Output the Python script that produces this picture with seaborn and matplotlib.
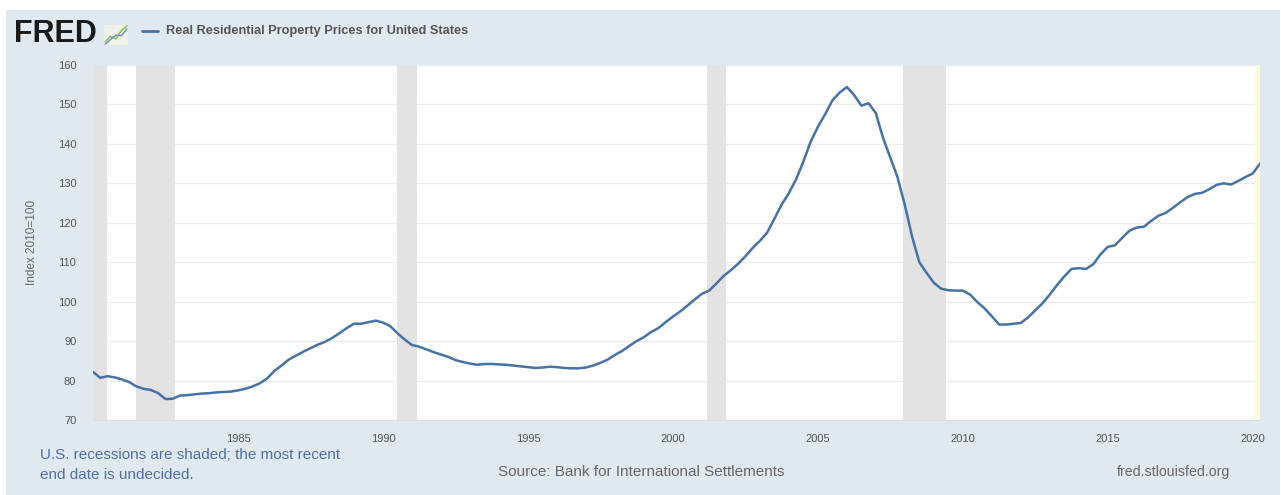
import numpy as np
import pandas as pd
import seaborn as sns
import matplotlib.pyplot as plt
from matplotlib.patches import Rectangle

# Real Residential Property Prices for United States, quarterly (Index 2010=100)
values_1980s = [82.2, 80.7, 81.1, 80.8,  80.3, 79.6, 78.5, 77.9,
                77.6, 76.8, 75.3, 75.4,  76.2, 76.3, 76.5, 76.7,
                76.8, 77.0, 77.1, 77.2,  77.5, 77.9, 78.5, 79.3,
                80.5, 82.4, 83.8, 85.3,  86.3, 87.3, 88.2, 89.1,
                89.8, 90.8, 92.0, 93.3,  94.4, 94.4, 94.8, 95.2]
values_1990s = [94.7, 93.8, 92.0, 90.4,  89.0, 88.6, 87.9, 87.2,
                86.6, 86.0, 85.2, 84.7,  84.3, 84.0, 84.2, 84.2,
                84.1, 84.0, 83.8, 83.6,  83.4, 83.2, 83.3, 83.5,
                83.4, 83.2, 83.1, 83.1,  83.3, 83.8, 84.5, 85.3,
                86.5, 87.5, 88.8, 90.0,  91.0, 92.3, 93.3, 94.8]
values_2000s = [96.2, 97.5, 99.0, 100.5,  102.0, 102.8, 104.6, 106.5,
                108.0, 109.6, 111.5, 113.6,  115.4, 117.5, 121.0, 124.6,
                127.5, 131.0, 135.5, 140.5,  144.3, 147.5, 151.0, 153.0,
                154.4, 152.4, 149.7, 150.3,  147.8, 141.5, 136.5, 131.5,
                124.5, 116.5, 110.0, 107.3,  104.8, 103.3, 102.9, 102.8]
values_2010s = [102.8, 101.8, 99.9, 98.3,  96.3, 94.2, 94.2, 94.4,
                94.6, 96.0, 97.8, 99.6,  101.8, 104.2, 106.4, 108.3,
                108.5, 108.3, 109.5, 112.0,  113.9, 114.3, 116.2, 118.0,
                118.8, 119.0, 120.5, 121.8,  122.5, 123.8, 125.2, 126.5,
                127.3, 127.6, 128.5, 129.6,  130.0, 129.7, 130.6, 131.6]
values_2020 = [132.5, 135.0]

# US recessions (decimal years); the last one has no end date yet
recession_start = [1980.0, 1981.5, 1990.5, 2001.17, 2007.92]
recession_end = [1980.5, 1982.83, 1991.17, 2001.83, 2009.42]
open_recession_start = 2020.08

year_ticks = [1985, 1990, 1995, 2000, 2005, 2010, 2015, 2020]
y_ticks = [70, 80, 90, 100, 110, 120, 130, 140, 150, 160]

values = values_1980s + values_1990s + values_2000s + values_2010s + values_2020
quarters = pd.period_range('1980Q1', periods=len(values), freq='Q')
df = pd.DataFrame({'year': quarters.year + (quarters.quarter - 1) / 4,
                   'value': values})

sns.set_style('white')
plt.rcParams['font.family'] = ['Liberation Sans', 'DejaVu Sans']

bg = '#e1e9f0'
fig = plt.figure(figsize=(12.81, 4.95), dpi=100)
fig.patch.set_facecolor('white')
fig.add_artist(Rectangle((6 / 1281, 0), 1 - 7 / 1281, 1 - 10 / 495,
                         transform=fig.transFigure, facecolor=bg,
                         edgecolor='none', zorder=-10))

ax = fig.add_axes([93 / 1281, 75 / 495, 1167 / 1281, 355 / 495])
ax.set_facecolor('white')

for s, e in zip(recession_start, recession_end):
    ax.axvspan(s, e, color='#e3e3e3', lw=0, zorder=1)
ax.axvspan(open_recession_start, df['year'].max(), color='#fbfbe0', lw=0, zorder=1)

for y in y_ticks[1:]:
    ax.axhline(y, color='#ececec', lw=1, zorder=0.5)

sns.lineplot(data=df, x='year', y='value', color='#4572a7', lw=1.8, ax=ax, zorder=3)

ax.set_xlim(1980.0, df['year'].max())
ax.set_ylim(70, 160)
ax.set_yticks(y_ticks)
ax.set_xticks(year_ticks)
ax.tick_params(axis='y', length=0, pad=12, labelsize=8, labelcolor='#555555')
ax.tick_params(axis='x', length=6, width=0.8, color='#cfd8e0', direction='out',
               pad=4, labelsize=8, labelcolor='#555555')
for side in ['top', 'right', 'left']:
    ax.spines[side].set_visible(False)
ax.spines['bottom'].set_color('#d6dee6')
ax.set_xlabel('')
ax.set_ylabel('Index 2010=100', fontsize=8.5, color='#666666', labelpad=14)

# header: logo + legend
fig.text(14 / 1281, 1 - 34 / 495, 'FRED', fontsize=22, fontweight='bold',
         color='#1a1a1a', va='center', ha='left')
icon = fig.add_axes([104 / 1281, 1 - 45 / 495, 24 / 1281, 20 / 495])
icon.set_facecolor('#eef2e8')
icon.plot([0, 1, 2, 3, 4], [0.5, 1.2, 0.9, 2.0, 2.6], color='#8fbf5a', lw=1.2)
icon.plot([0, 1, 2, 3, 4], [0.2, 0.8, 1.4, 1.3, 2.2], color='#6b8fc4', lw=1.0)
icon.set_xticks([])
icon.set_yticks([])
for sp in icon.spines.values():
    sp.set_visible(False)

fig.add_artist(plt.Line2D([142 / 1281, 158 / 1281], [1 - 31 / 495, 1 - 31 / 495],
                          color='#4572a7', lw=2, transform=fig.transFigure))
fig.text(166 / 1281, 1 - 31 / 495, 'Real Residential Property Prices for United States',
         fontsize=9.2, fontweight='bold', color='#555555', va='center', ha='left')

# footer
fig.text(40 / 1281, 1 - 465 / 495,
         'U.S. recessions are shaded; the most recent\nend date is undecided.',
         fontsize=11, color='#4f6fa8', va='center', ha='left', linespacing=1.5)
fig.text(641 / 1281, 1 - 472 / 495, 'Source: Bank for International Settlements',
         fontsize=11, color='#666666', va='center', ha='center')
fig.text(1230 / 1281, 1 - 472 / 495, 'fred.stlouisfed.org',
         fontsize=10.2, color='#666666', va='center', ha='right')

fig.savefig('out.png', dpi=100, facecolor=fig.get_facecolor())
